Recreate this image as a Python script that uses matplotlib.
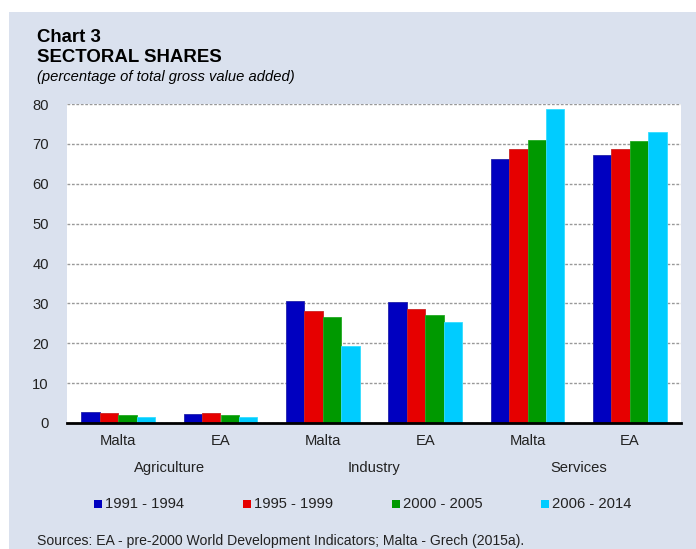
import matplotlib.pyplot as plt
from matplotlib.patches import Rectangle
import numpy as np

plt.rcParams['font.family'] = ['Liberation Sans', 'DejaVu Sans']

categories = ['Malta', 'EA', 'Malta', 'EA', 'Malta', 'EA']
sectors = ['Agriculture', 'Industry', 'Services']
periods = ['1991 - 1994', '1995 - 1999', '2000 - 2005', '2006 - 2014']
p1991 = [2.7, 2.3, 30.5, 30.3, 66.3, 67.1]
p1995 = [2.5, 2.6, 28.2, 28.5, 68.8, 68.7]
p2000 = [2.1, 2.0, 26.5, 27.0, 70.9, 70.6]
p2006 = [1.5, 1.5, 19.3, 25.3, 78.8, 72.9]
yticks = [0, 10, 20, 30, 40, 50, 60, 70, 80]

colors = ['#0000C0', '#E60000', '#009900', '#00CCFF']
edges = ['#2222AA', '#CC2222', '#22AA22', '#33DDFF']
bg = '#DAE1EE'
txt = '#222222'
fs = 10.6

fig = plt.figure(figsize=(6.96, 5.49), dpi=100)
fig.patches.append(Rectangle((9/696, 0), 1, 1 - 12/549, transform=fig.transFigure,
                             facecolor=bg, edgecolor='none', zorder=-10))

ax = fig.add_axes([67/696, 1 - 423/549, (681 - 67)/696, (423 - 104)/549])
ax.set_facecolor('white')

x = np.arange(len(categories))
w = 0.18
series = [p1991, p1995, p2000, p2006]
for i, vals in enumerate(series):
    ax.bar(x + (i - 1.5) * w, vals, width=w, color=colors[i], edgecolor=edges[i],
           linewidth=0.6, label=periods[i], zorder=3)

ax.set_xlim(-0.5, len(categories) - 0.5)
ax.set_ylim(0, 80)
ax.set_yticks(yticks)
ax.set_xticks(x)
ax.set_xticklabels(categories)
ax.yaxis.grid(True, linestyle=(0, (2, 1.2)), color='#999999', linewidth=1.0, zorder=0)
for s in ['top', 'right', 'left']:
    ax.spines[s].set_visible(False)
ax.spines['bottom'].set_linewidth(2)
ax.spines['bottom'].set_color('black')
ax.spines['bottom'].set_zorder(5)
ax.tick_params(axis='both', length=0, labelsize=fs, colors=txt)
ax.tick_params(axis='y', pad=13)
ax.tick_params(axis='x', pad=8)

# sector labels under each pair of categories
for j, sec in enumerate(sectors):
    ax.text(2 * j + 0.5, -11.2, sec, ha='center', va='center', fontsize=fs,
            color=txt, clip_on=False)

fig.text(37/696, 1 - 37/549, 'Chart 3', fontsize=13.4, fontweight='bold', va='center')
fig.text(37/696, 1 - 57/549, 'SECTORAL SHARES', fontsize=13.4, fontweight='bold', va='center')
fig.text(37/696, 1 - 77/549, '(percentage of total gross value added)', fontsize=10.6,
         style='italic', va='center')

# legend
lx = [94, 243, 392, 541]
for i, p in enumerate(periods):
    fig.patches.append(Rectangle((lx[i] / 696, 1 - 508/549), 8/696, 8/549,
                                 transform=fig.transFigure, facecolor=colors[i],
                                 edgecolor='none'))
    fig.text((lx[i] + 11) / 696, 1 - 504/549, p, fontsize=fs, va='center', color=txt)

fig.text(37/696, 1 - 541/549, 'Sources: EA - pre-2000 World Development Indicators; Malta - Grech (2015a).',
         fontsize=10.1, va='center', color=txt)

plt.savefig('out.png', dpi=100)
plt.close('all')
